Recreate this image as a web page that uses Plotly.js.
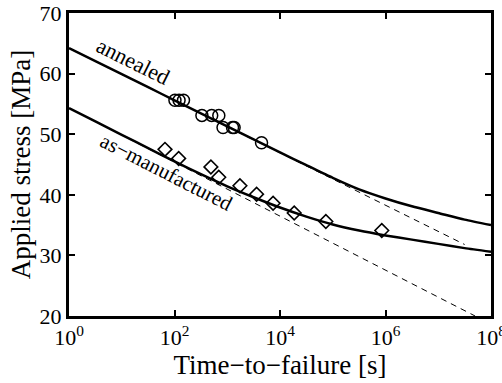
<!DOCTYPE html>
<html>
<head>
<meta charset="utf-8">
<script src="https://cdn.plot.ly/plotly-3.0.1.min.js"></script>
<style>html,body{margin:0;padding:0;background:#fff;}#chart{width:502px;height:383px;}</style>
</head>
<body>
<div id="chart"></div>
<script>
// Measured data: time-to-failure [s] and applied stress [MPa]
const annealedTime = [102, 122, 148, 331, 507, 692, 832, 1259, 1349, 4467];
const annealedStress = [55.6, 55.6, 55.6, 53.1, 53.1, 53.1, 51.1, 51.1, 51.1, 48.6];

const asManTime = [66, 120, 490, 690, 1740, 3600, 7400, 18600, 74000, 850000];
const asManStress = [47.5, 46.0, 44.6, 42.9, 41.5, 40.1, 38.6, 37.0, 35.6, 34.1];

// Fitted curves
const curveTime = [1, 3.16, 10, 31.6, 100, 316, 1e3, 3.16e3, 1e4, 3.16e4, 1e5, 3.16e5, 1e6, 3.16e6, 1e7, 3.16e7, 1e8];
const annealedFit = [64.2, 62.05, 59.9, 57.75, 55.6, 53.45, 51.3, 49.15, 47.0, 44.9, 42.8, 40.9, 39.4, 38.1, 37.0, 35.9, 35.0];
const asManFit = [54.3, 52.1, 49.9, 47.7, 45.5, 43.4, 41.4, 39.6, 37.9, 36.4, 35.1, 34.1, 33.3, 32.6, 31.9, 31.2, 30.6];

// Straight-line (asymptotic) fits
const annealedLineTime = [1, 3.16e7];
const annealedLineStress = [64.2, 31.8];
const asManLineTime = [1, 5e7];
const asManLineStress = [54.3, 20.0];

const xTickVals = [1, 100, 1e4, 1e6, 1e8];
const xTickText = ['10<sup>0</sup>', '10<sup>2</sup>', '10<sup>4</sup>', '10<sup>6</sup>', '10<sup>8</sup>'];
const yTickVals = [20, 30, 40, 50, 60, 70];

const FONT = "'Liberation Serif', 'Times New Roman', serif";

const traces = [
  {x: annealedLineTime, y: annealedLineStress, mode: 'lines', line: {color: 'black', width: 1, dash: '6px,5px'}, hoverinfo: 'skip'},
  {x: asManLineTime, y: asManLineStress, mode: 'lines', line: {color: 'black', width: 1, dash: '6px,5px'}, hoverinfo: 'skip'},
  {x: curveTime, y: annealedFit, mode: 'lines', line: {color: 'black', width: 2.5, shape: 'spline', smoothing: 0.6}},
  {x: curveTime, y: asManFit, mode: 'lines', line: {color: 'black', width: 2.5, shape: 'spline', smoothing: 0.6}},
  {x: annealedTime, y: annealedStress, mode: 'markers', marker: {symbol: 'circle-open', size: 12, color: 'black', line: {width: 1.5, color: 'black'}}},
  {x: asManTime, y: asManStress, mode: 'markers', marker: {symbol: 'diamond-open', size: 10.5, color: 'black', line: {width: 1.6, color: 'black'}}}
];

const layout = {
  width: 502, height: 383,
  margin: {l: 69, r: 11, t: 13, b: 67, pad: 0},
  paper_bgcolor: 'white', plot_bgcolor: 'white',
  showlegend: false,
  font: {family: FONT, color: 'black', size: 22},
  xaxis: {
    type: 'log', range: [0, 8], tickvals: xTickVals, ticktext: xTickText,
    ticks: 'inside', ticklen: 6, tickwidth: 2, tickcolor: 'black',
    showline: true, linewidth: 3, linecolor: 'black', mirror: 'ticks',
    showgrid: false, zeroline: false, ticklabeloverflow: 'allow',
    tickfont: {family: FONT, size: 22, color: 'black'},
    title: {text: 'Time−to−failure [s]', font: {family: FONT, size: 27, color: 'black'}, standoff: 1},
    automargin: false
  },
  yaxis: {
    range: [20, 70], tickvals: yTickVals,
    ticks: 'inside', ticklen: 6, tickwidth: 2, tickcolor: 'black',
    showline: true, linewidth: 3, linecolor: 'black', mirror: 'ticks',
    showgrid: false, zeroline: false, ticklabeloverflow: 'allow',
    tickfont: {family: FONT, size: 22, color: 'black'},
    title: {text: 'Applied stress [MPa]', font: {family: FONT, size: 27, color: 'black'}, standoff: 2},
    automargin: false
  },
  annotations: [
    {x: 1.22, y: 62.0, xref: 'x', yref: 'y', text: 'annealed', showarrow: false, textangle: 26.5,
     font: {family: FONT, size: 22, color: 'black'}},
    {x: 1.84, y: 43.8, xref: 'x', yref: 'y', text: 'as−manufactured', showarrow: false, textangle: 27,
     font: {family: FONT, size: 21, color: 'black'}}
  ]
};

Plotly.newPlot('chart', traces, layout, {displayModeBar: false, staticPlot: true});
</script>
</body>
</html>
